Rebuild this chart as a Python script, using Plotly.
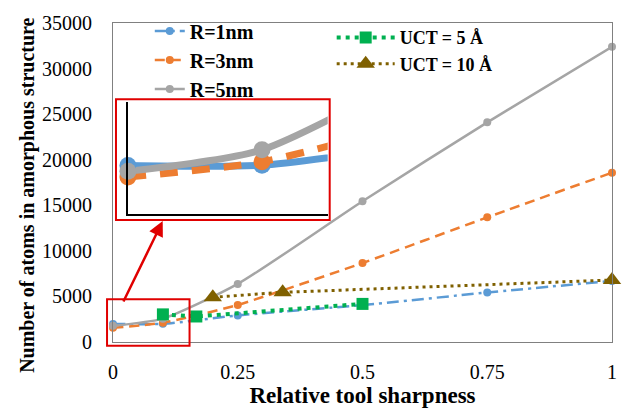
import plotly.graph_objects as go

# ---- data ----
x_r = [0, 0.1, 0.25, 0.5, 0.75, 1]
r1 = [1980, 1990, 2920, 4050, 5430, 6700]
r3 = [1560, 2120, 4070, 8670, 13680, 18580]
r5 = [1770, 2560, 6370, 15450, 24100, 32400]

x_uct5 = [0.1, 0.167, 0.5]
uct5 = [3030, 2800, 4180]
x_uct10 = [0.2, 0.34, 1]
uct10 = [4900, 5450, 6800]

x_ticks = [0, 0.25, 0.5, 0.75, 1]
x_ticklabels = ["0", "0.25", "0.5", "0.75", "1"]

BLUE = "#5B9BD5"
ORANGE = "#ED7D31"
GRAY = "#A5A5A5"
GREEN = "#00B050"
BROWN = "#7F6000"
SERIF = "Liberation Serif"

fig = go.Figure()

r_series = [
    ("R=1nm", r1, BLUE, "12px,5px,3px,5px"),
    ("R=3nm", r3, ORANGE, "10px,6px"),
    ("R=5nm", r5, GRAY, "solid"),
]
for name, ys, col, dash in r_series:
    fig.add_trace(go.Scatter(
        x=x_r, y=ys, name=name, mode="lines+markers",
        line=dict(color=col, width=2.5, dash=dash, shape="spline", smoothing=0.6),
        marker=dict(color=col, size=8, symbol="circle"),
        cliponaxis=False, legend="legend"))

fig.add_trace(go.Scatter(
    x=x_uct5, y=uct5, name="UCT = 5 Å", mode="lines+markers",
    line=dict(color=GREEN, width=4, dash="4px,5px"),
    marker=dict(color=GREEN, size=12, symbol="square"),
    cliponaxis=False, legend="legend2"))
fig.add_trace(go.Scatter(
    x=x_uct10, y=uct10, name="UCT = 10 Å", mode="lines+markers",
    line=dict(color=BROWN, width=3, dash="3px,4px"),
    marker=dict(color=BROWN, size=16, symbol="triangle-up"),
    cliponaxis=False, legend="legend2"))

# ---- inset (zoom of the origin region) ----
inset_xmax = 0.149
for name, ys, col, dash in r_series:
    idash = "solid" if col != ORANGE else "18px,14px"
    fig.add_trace(go.Scatter(
        x=x_r, y=ys, mode="lines", showlegend=False, hoverinfo="skip",
        line=dict(color=col, width=7, dash=idash, shape="spline", smoothing=0.6),
        xaxis="x2", yaxis="y2"))
for name, ys, col, dash in r_series:
    xs = [xv for xv in x_r if xv <= inset_xmax]
    yv = [yy for xv, yy in zip(x_r, ys) if xv <= inset_xmax]
    fig.add_trace(go.Scatter(
        x=xs, y=yv, mode="markers", showlegend=False, hoverinfo="skip",
        marker=dict(color=col, size=17), cliponaxis=False,
        xaxis="x2", yaxis="y2"))

L, R, T, B = 113, 14, 17, 59
W, H = 629, 411
pw, ph = W - L - R, H - T - B

def px_x(p):
    return (p - L) / pw

def px_y(p):
    return (H - B - p) / ph

fig.update_layout(
    width=W, height=H,
    margin=dict(l=L, r=R, t=T, b=B),
    paper_bgcolor="white", plot_bgcolor="white",
    font=dict(family=SERIF, color="black"),
    xaxis=dict(range=[0, 1], tickvals=x_ticks, ticktext=x_ticklabels,
               showgrid=False, zeroline=False, showline=True, mirror=True,
               linecolor="#808080", linewidth=1, ticks="",
               ticklabelstandoff=12,
               tickfont=dict(family=SERIF, size=20, color="black"),
               title=dict(text="<b>Relative tool sharpness</b>",
                          font=dict(family=SERIF, size=23), standoff=0)),
    yaxis=dict(range=[0, 35000], dtick=5000, tickformat="d",
               showgrid=False, zeroline=False,
               showline=True, mirror=True, linecolor="#808080", linewidth=1,
               ticks="", ticklabelstandoff=16,
               tickfont=dict(family=SERIF, size=20, color="black")),
    xaxis2=dict(domain=[px_x(128), px_x(329)], range=[0, inset_xmax],
                anchor="y2", showgrid=False, zeroline=False, showline=True,
                linecolor="black", linewidth=2, showticklabels=False, ticks=""),
    yaxis2=dict(domain=[px_y(218), px_y(100)], range=[185, 4315],
                anchor="x2", showgrid=False, zeroline=False, showline=True,
                linecolor="black", linewidth=2, showticklabels=False, ticks=""),
    legend=dict(x=px_x(150), y=px_y(5), xanchor="left", yanchor="top",
                bgcolor="rgba(0,0,0,0)", tracegroupgap=0,
                font=dict(family=SERIF, size=20, color="black"),
                itemwidth=30),
    legend2=dict(x=px_x(333), y=px_y(13), xanchor="left", yanchor="top",
                 bgcolor="rgba(0,0,0,0)",
                 font=dict(family=SERIF, size=18, color="black"),
                 itemwidth=58),
    showlegend=True,
)

# y-axis title as rotated text, positioned like the original
fig.add_annotation(xref="paper", yref="paper", x=px_x(27), y=px_y(198),
                   text="<b>Number of atoms in amorphous structure</b>",
                   textangle=-90, showarrow=False, xanchor="center", yanchor="middle",
                   font=dict(family=SERIF, size=20, color="black"))

# bold legend text
for tr in fig.data:
    if tr.name:
        tr.name = "<b>" + tr.name + "</b>"

# red boxes
fig.add_shape(type="rect", xref="paper", yref="paper",
              x0=px_x(116), x1=px_x(331), y0=px_y(224), y1=px_y(97),
              line=dict(color="#E00000", width=2), fillcolor="white", layer="below")
fig.add_shape(type="rect", xref="paper", yref="paper",
              x0=px_x(107), x1=px_x(190), y0=px_y(356), y1=px_y(307),
              line=dict(color="#E00000", width=2), layer="above")
# arrow
fig.add_annotation(xref="paper", yref="paper", x=px_x(163), y=px_y(225),
                   ax=-40, ay=82, axref="pixel", ayref="pixel", text="",
                   showarrow=True, arrowhead=2, arrowsize=1.2, arrowwidth=2.5,
                   arrowcolor="#E00000")

fig.write_html("out.html")
